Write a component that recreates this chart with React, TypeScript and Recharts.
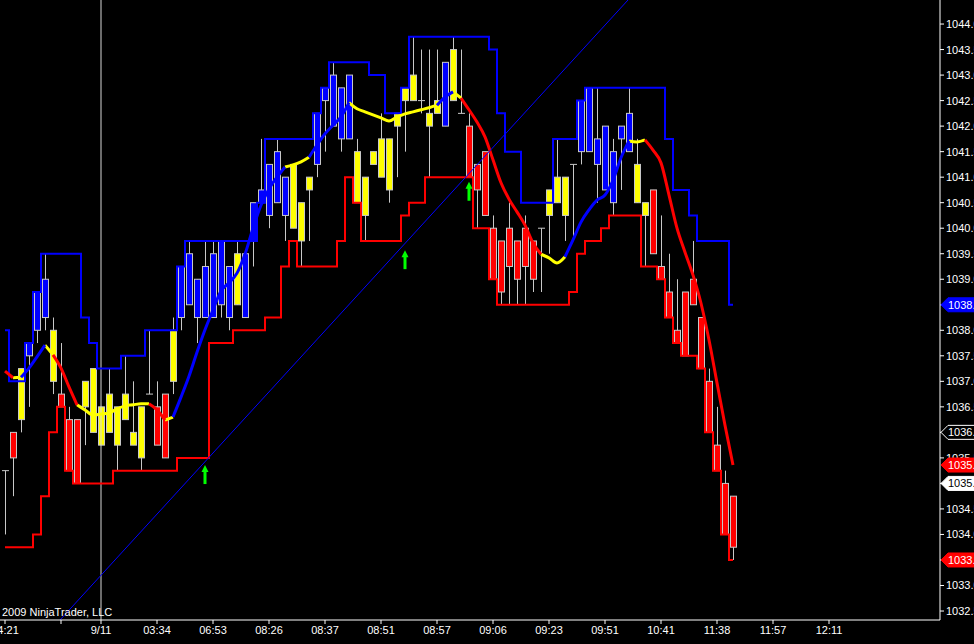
import React from "react";
import {
  ComposedChart,
  Bar,
  Line,
  XAxis,
  YAxis,
  ReferenceLine,
  ReferenceDot,
  Scatter,
} from "recharts";

// ---- candle data (ES futures, 1 bar per slot) ----
const highs = [
  1035.25, 1036.0, 1037.25, 1037.75, 1038.75, 1039.5, 1038.25, 1037.75, 1036.5, 1036.25,
  1037.0, 1037.25, 1036.5, 1037.25, 1036.5, 1037.5, 1037.0, 1036.5, 1038.0, 1037.0,
  1036.75, 1038.25, 1039.25, 1039.75, 1039.0, 1039.75, 1039.75, 1039.75, 1039.25, 1039.75,
  1039.5, 1040.5, 1041.75, 1041.25, 1041.75, 1041.0, 1041.25, 1040.5, 1041.0, 1042.25,
  1042.75, 1043.25, 1042.75, 1043.0, 1041.75, 1041.0, 1041.5, 1042.25, 1041.75, 1042.25,
  1042.75, 1043.75, 1043.5, 1043.5, 1043.5, 1043.25, 1043.75, 1043.5, 1042.25, 1041.25,
  1041.5, 1040.25, 1039.75, 1040.5, 1039.75, 1040.25, 1039.75, 1040.0, 1040.75, 1041.75,
  1041.0, 1041.25, 1042.5, 1042.75, 1042.75, 1042.0, 1041.75, 1042.0, 1042.75, 1041.75,
  1040.5, 1040.75, 1040.25, 1039.5, 1039.0, 1038.75, 1039.75, 1038.25, 1037.25, 1036.5,
  1035.25, 1034.75,
];
const lows = [
  1034.0, 1034.75, 1036.0, 1036.5, 1037.75, 1038.0, 1036.75, 1036.5, 1035.25, 1035.0,
  1035.75, 1036.0, 1035.75, 1036.0, 1035.25, 1036.25, 1035.75, 1035.25, 1036.75, 1035.75,
  1035.5, 1036.75, 1038.0, 1038.5, 1037.75, 1038.25, 1038.25, 1038.25, 1038.0, 1038.5,
  1038.25, 1039.25, 1040.5, 1040.0, 1040.5, 1039.75, 1040.0, 1039.25, 1039.75, 1041.0,
  1041.5, 1042.0, 1041.5, 1041.75, 1040.5, 1039.75, 1041.25, 1041.0, 1040.5, 1041.0,
  1041.5, 1042.5, 1042.25, 1041.0, 1042.25, 1042.0, 1042.5, 1042.25, 1041.0, 1040.0,
  1040.25, 1039.0, 1038.5, 1038.5, 1038.5, 1038.5, 1038.75, 1038.75, 1039.5, 1040.5,
  1039.75, 1039.75, 1041.25, 1041.5, 1040.5, 1040.75, 1040.25, 1040.75, 1041.5, 1040.5,
  1039.25, 1039.5, 1039.0, 1038.25, 1037.75, 1037.5, 1038.5, 1037.25, 1036.0, 1035.25,
  1034.0, 1033.5,
];
const bodyTops = [
  1035.25, 1036.0, 1037.25, 1037.75, 1038.75, 1039.0, 1038.0, 1036.75, 1036.25, 1036.25,
  1037.0, 1037.25, 1036.5, 1036.75, 1036.5, 1036.75, 1036.0, 1036.5, 1036.75, 1036.5,
  1036.75, 1038.0, 1039.25, 1039.5, 1039.0, 1039.25, 1039.5, 1039.75, 1039.25, 1039.5,
  1039.5, 1040.5, 1040.75, 1041.25, 1041.5, 1041.0, 1041.25, 1040.5, 1041.0, 1042.25,
  1042.75, 1043.0, 1042.75, 1043.0, 1041.5, 1041.0, 1041.5, 1041.75, 1041.75, 1042.25,
  1042.75, 1043.0, 1042.5, 1042.25, 1042.5, 1043.25, 1043.5, 1042.25, 1042.0, 1041.25,
  1041.5, 1040.0, 1039.75, 1040.0, 1039.75, 1040.0, 1039.75, 1040.0, 1040.75, 1041.0,
  1041.0, 1041.25, 1042.5, 1042.75, 1041.75, 1042.0, 1041.5, 1042.0, 1042.25, 1041.25,
  1040.5, 1040.75, 1039.25, 1038.75, 1038.0, 1038.75, 1039.0, 1038.25, 1037.0, 1035.75,
  1035.0, 1034.75,
];
const bodyBottoms = [
  1035.25, 1035.5, 1036.25, 1037.5, 1038.0, 1038.25, 1037.0, 1036.5, 1035.25, 1035.0,
  1036.5, 1036.0, 1035.75, 1036.0, 1035.75, 1036.25, 1035.75, 1035.5, 1036.75, 1035.75,
  1035.5, 1037.0, 1038.25, 1038.5, 1038.25, 1038.25, 1038.25, 1038.5, 1038.25, 1038.5,
  1038.25, 1039.75, 1040.5, 1040.25, 1040.5, 1040.25, 1040.0, 1039.75, 1040.75, 1041.25,
  1042.5, 1042.0, 1041.75, 1041.75, 1040.5, 1040.25, 1041.25, 1041.0, 1040.75, 1042.0,
  1042.5, 1042.5, 1042.5, 1042.0, 1042.25, 1042.0, 1042.5, 1042.25, 1041.0, 1040.75,
  1040.25, 1039.0, 1038.75, 1039.25, 1039.0, 1039.25, 1039.0, 1040.0, 1040.25, 1040.5,
  1040.25, 1041.25, 1041.5, 1041.5, 1041.25, 1040.75, 1040.5, 1041.75, 1041.5, 1040.5,
  1040.25, 1039.5, 1039.0, 1038.25, 1037.75, 1037.5, 1038.5, 1037.25, 1036.0, 1035.25,
  1034.0, 1033.75,
];
// B = blue, Y = yellow, R = red body
const candleColors = (
  "YRYBBBYRRR" + "YYYYYYYYYR" + "RYBBBBBBBY" + "BBBBBBYYYB" + "BBBBYYYYYY" +
  "YYYYYBYYRR" + "RRRRRRRYYY" + "YYBBBBBBBY" + "YRRRRRRRRR" + "RR"
).split("");

// ---- channel (upper / lower) ----
const upperBand = [
  1038.0, 1037.0, 1037.0, 1037.75, 1038.75, 1039.5, 1039.5, 1039.5, 1039.5, 1039.5,
  1038.25, 1037.75, 1037.25, 1037.25, 1037.25, 1037.5, 1037.5, 1037.5, 1038.0, 1038.0,
  1038.0, 1038.0, 1039.25, 1039.75, 1039.75, 1039.75, 1039.75, 1039.75, 1039.75, 1039.75,
  1039.75, 1039.75, 1040.5, 1041.75, 1041.75, 1041.75, 1041.75, 1041.75, 1041.75, 1042.25,
  1042.75, 1043.25, 1043.25, 1043.25, 1043.25, 1043.25, 1043.0, 1043.0, 1042.25, 1042.25,
  1042.75, 1043.75, 1043.75, 1043.75, 1043.75, 1043.75, 1043.75, 1043.75, 1043.75, 1043.75,
  1043.75, 1043.5, 1042.25, 1041.5, 1041.5, 1040.5, 1040.5, 1040.5, 1040.5, 1041.75,
  1041.75, 1041.75, 1042.5, 1042.75, 1042.75, 1042.75, 1042.75, 1042.75, 1042.75, 1042.75,
  1042.75, 1042.75, 1042.75, 1041.75, 1040.75, 1040.75, 1040.25, 1039.75, 1039.75, 1039.75,
  1039.75, 1038.5,
];
const lowerBand = [
  1033.75, 1033.75, 1033.75, 1033.75, 1034.0, 1034.75, 1036.0, 1036.5, 1035.25, 1035.0,
  1035.0, 1035.0, 1035.0, 1035.0, 1035.25, 1035.25, 1035.25, 1035.25, 1035.25, 1035.25,
  1035.25, 1035.25, 1035.5, 1035.5, 1035.5, 1035.5, 1037.75, 1037.75, 1037.75, 1038.0,
  1038.0, 1038.0, 1038.0, 1038.25, 1038.25, 1039.25, 1039.75, 1039.25, 1039.25, 1039.25,
  1039.25, 1039.25, 1039.75, 1041.0, 1040.5, 1039.75, 1039.75, 1039.75, 1039.75, 1039.75,
  1040.25, 1040.5, 1040.5, 1041.0, 1041.0, 1041.0, 1041.0, 1041.0, 1041.0, 1040.0,
  1040.0, 1039.0, 1038.5, 1038.5, 1038.5, 1038.5, 1038.5, 1038.5, 1038.5, 1038.5,
  1038.5, 1038.75, 1039.5, 1039.75, 1039.75, 1040.0, 1040.25, 1040.25, 1040.25, 1040.25,
  1039.25, 1039.25, 1039.0, 1038.25, 1037.75, 1037.5, 1037.5, 1037.25, 1036.0, 1035.25,
  1034.0, 1033.5,
];

// ---- trend moving average and its colour per segment (segment ending at point) ----
const movingAvg = [
  1037.2, 1037.07, 1037.08, 1037.26, 1037.48, 1037.71, 1037.52, 1037.26, 1036.89, 1036.54,
  1036.44, 1036.34, 1036.36, 1036.38, 1036.46, 1036.52, 1036.54, 1036.56, 1036.56, 1036.44,
  1036.24, 1036.3, 1036.69, 1037.1, 1037.57, 1038.01, 1038.4, 1038.77, 1038.93, 1039.12,
  1039.49, 1040.0, 1040.45, 1040.77, 1041.0, 1041.2, 1041.24, 1041.3, 1041.39, 1041.63,
  1041.85, 1042.02, 1042.18, 1042.46, 1042.34, 1042.28, 1042.22, 1042.16, 1042.1, 1042.18,
  1042.24, 1042.28, 1042.32, 1042.36, 1042.41, 1042.57, 1042.67, 1042.55, 1042.32, 1042.08,
  1041.79, 1041.34, 1040.89, 1040.57, 1040.32, 1040.06, 1039.71, 1039.49, 1039.42, 1039.32,
  1039.44, 1039.77, 1040.12, 1040.36, 1040.55, 1040.65, 1040.94, 1041.38, 1041.71, 1041.69,
  1041.73, 1041.53, 1041.28, 1040.65, 1040.0, 1039.53, 1039.08, 1038.53, 1037.81, 1036.97,
  1036.14, 1035.36,
];
const maTrend = (
  "RRY" + "BBB" + "Y" + "RRR" + "YYYYYYYYY" + "RR" + "Y" + "BBBBBBBBBBBBBB" + "YYY" +
  "BBBBB" + "YYYYYYYYYYY" + "BB" + "Y" + "RRRRRRRRRR" + "YYY" + "BBBBBBBB" + "YY" +
  "RRRRRRRRRRR"
).split("");

// ---- axis ticks ----
const xTickIdx = [1, 8, 13, 20, 27, 34, 41, 48, 55, 62, 69, 76, 83, 90, 97, 104];
const xTickLabels = [
  "04:21", "", "9/11", "03:34", "06:53", "08:26", "08:37", "08:51", "08:57",
  "09:06", "09:23", "09:51", "10:41", "11:38", "11:57", "12:11",
];
const yTicks = [
  1032.5, 1033, 1033.5, 1034, 1034.5, 1035, 1035.5, 1036, 1036.5, 1037, 1037.5, 1038,
  1038.5, 1039, 1039.5, 1040, 1040.5, 1041, 1041.5, 1042, 1042.5, 1043, 1043.5, 1044,
];
const xDomain = [0.375, 117.875];
const yDomain = [1032.324, 1044.471];

// ---- signals / annotations ----
const arrowIdx = [26, 51, 59];
const arrowPrice = [1035.36, 1039.57, 1040.91];
const sessionBreakIdx = 13;
const trendStart = { i: 7.875, p: 1032.324 };
const trendEnd = { i: 78.875, p: 1044.471 };
const markerValues = [upperBand[91], 1036.0, movingAvg[91], 1035.0, lowerBand[91]];
const markerFills = ["#0000ff", "#000000", "#ff0000", "#ffffff", "#ff0000"];
const markerText = ["#ffffff", "#ffffff", "#ffffff", "#000000", "#ffffff"];
const markerStroke = ["#0000ff", "#ffffff", "#ff0000", "#ffffff", "#ff0000"];

const COLOR: Record<string, string> = { B: "#0000ff", Y: "#ffff00", R: "#ff0000" };

const pickMa = (c: string, k: number) =>
  maTrend[k] === c || maTrend[k + 1] === c ? movingAvg[k] : null;

const rows = highs.map((h, k) => ({
  i: k + 1,
  range: [lows[k], h],
  high: h,
  low: lows[k],
  top: bodyTops[k],
  bottom: bodyBottoms[k],
  color: candleColors[k],
  upper: upperBand[k],
  lower: lowerBand[k],
  maR: pickMa("R", k),
  maY: pickMa("Y", k),
  maB: pickMa("B", k),
}));

const arrows = arrowIdx.map((i, k) => ({ i, p: arrowPrice[k] }));

const FONT = "'Liberation Sans', Arial, sans-serif";

const Candle = (props: any) => {
  const { x, y, width, height, payload } = props;
  if (!payload || x == null) return null;
  const { high, low, top, bottom, color } = payload;
  const y0 = Math.min(y, y + height);
  const h = Math.abs(height);
  const k = h / (high - low);
  const py = (v: number) => y0 + (high - v) * k;
  const cx = Math.round(x + width / 2) + 0.5;
  const yt = py(top);
  const yb = py(bottom);
  return (
    <g>
      <line x1={cx} x2={cx} y1={py(high)} y2={py(low)} stroke="#c8c8c8" strokeWidth={1} />
      {yb - yt < 1 ? (
        <line x1={cx - 3.5} x2={cx + 3.5} y1={yt} y2={yt} stroke="#c8c8c8" strokeWidth={1} />
      ) : (
        <rect
          x={cx - 3}
          y={yt}
          width={6}
          height={yb - yt}
          fill={COLOR[color]}
          stroke="#c8c8c8"
          strokeWidth={1}
        />
      )}
    </g>
  );
};

const Arrow = (props: any) => {
  const { cx, cy } = props;
  if (cx == null) return null;
  return (
    <g fill="#00ff00">
      <polygon points={`${cx},${cy} ${cx - 3.5},${cy + 7} ${cx + 3.5},${cy + 7}`} />
      <rect x={cx - 1.5} y={cy + 6} width={3} height={13} />
    </g>
  );
};

// y-axis tick label; labels sitting exactly under a price flag are covered in the original
const PriceTick = (props: any) => {
  const { x, y, payload } = props;
  const v = payload?.value;
  if (v == null) return null;
  if (markerValues.some((m) => Math.abs(m - v) < 0.1)) return null;
  return (
    <text x={x} y={y} dy="0.36em" fill="#ffffff" fontSize={11} fontFamily={FONT} textAnchor="start">
      {Number(v).toFixed(2)}
    </text>
  );
};

const makeFlag = (k: number) => (props: any) => {
  const { cx, cy } = props;
  if (cx == null) return null;
  const x0 = cx + 1;
  return (
    <g>
      <polygon
        points={`${x0},${cy} ${x0 + 7},${cy - 7} ${x0 + 40},${cy - 7} ${x0 + 40},${cy + 7} ${x0 + 7},${cy + 7}`}
        fill={markerFills[k]}
        stroke={markerStroke[k]}
        strokeWidth={1}
      />
      <text
        x={x0 + 7}
        y={cy}
        dy="0.36em"
        fill={markerText[k]}
        fontSize={11}
        fontFamily={FONT}
      >
        {markerValues[k].toFixed(2)}
      </text>
    </g>
  );
};

const MARGIN = { top: 0, right: 0, bottom: 0, left: 0 };

export default function App() {
  return (
    <div
      style={{
        width: 974,
        height: 644,
        background: "#000",
        position: "relative",
        overflow: "hidden",
      }}
    >
      <style>{`html,body{margin:0;padding:0;background:#000;overflow:hidden;}`}</style>
      <ComposedChart width={974} height={644} data={rows} margin={MARGIN}>
        <XAxis
          type="number"
          dataKey="i"
          domain={xDomain}
          allowDataOverflow
          ticks={xTickIdx}
          interval={0}
          tickFormatter={(v: number) => xTickLabels[xTickIdx.indexOf(v)] ?? ""}
          height={24}
          tickSize={4}
          stroke="#ffffff"
          tick={{ fill: "#ffffff", fontSize: 11, fontFamily: FONT }}
        />
        <YAxis
          orientation="right"
          type="number"
          domain={yDomain}
          allowDataOverflow
          ticks={yTicks}
          interval={0}
          width={34}
          tickSize={4}
          stroke="#ffffff"
          tick={<PriceTick />}
        />
        <ReferenceLine x={sessionBreakIdx} stroke="#d8d8d8" strokeWidth={1} />
        <Line
          type="step"
          dataKey="upper"
          stroke="#0000ff"
          strokeWidth={2}
          dot={false}
          activeDot={false}
          isAnimationActive={false}
        />
        <Line
          type="step"
          dataKey="lower"
          stroke="#ff0000"
          strokeWidth={2}
          dot={false}
          activeDot={false}
          isAnimationActive={false}
        />
        <Bar dataKey="range" barSize={8} shape={Candle} isAnimationActive={false} />
        <Line
          type="monotone"
          dataKey="maY"
          stroke="#ffff00"
          strokeWidth={3}
          dot={false}
          activeDot={false}
          connectNulls={false}
          isAnimationActive={false}
        />
        <Line
          type="monotone"
          dataKey="maB"
          stroke="#0000ff"
          strokeWidth={3}
          dot={false}
          activeDot={false}
          connectNulls={false}
          isAnimationActive={false}
        />
        <Line
          type="monotone"
          dataKey="maR"
          stroke="#ff0000"
          strokeWidth={3}
          dot={false}
          activeDot={false}
          connectNulls={false}
          isAnimationActive={false}
        />
        <ReferenceLine
          segment={[
            { x: trendStart.i, y: trendStart.p },
            { x: trendEnd.i, y: trendEnd.p },
          ]}
          stroke="#0000ff"
          strokeWidth={1}
          ifOverflow="visible"
        />
        <Scatter data={arrows} dataKey="p" shape={Arrow} isAnimationActive={false} />
      </ComposedChart>
      {/* overlay layer: price flags drawn above the axis labels, same scales */}
      <div style={{ position: "absolute", left: 0, top: 0, pointerEvents: "none" }}>
        <ComposedChart
          width={974}
          height={644}
          data={rows}
          margin={{ top: 0, right: 34, bottom: 24, left: 0 }}
        >
          <XAxis type="number" dataKey="i" domain={xDomain} allowDataOverflow hide />
          <YAxis type="number" domain={yDomain} allowDataOverflow hide />
          {markerValues.map((v, k) => (
            <ReferenceDot
              key={k}
              x={xDomain[1]}
              y={v}
              r={0}
              ifOverflow="visible"
              shape={makeFlag(k)}
            />
          ))}
        </ComposedChart>
      </div>
      <div
        style={{
          position: "absolute",
          left: 2,
          top: 606,
          color: "#fff",
          fontSize: 11,
          lineHeight: "13px",
          fontFamily: FONT,
          whiteSpace: "nowrap",
        }}
      >
        2009 NinjaTrader, LLC
      </div>
    </div>
  );
}
